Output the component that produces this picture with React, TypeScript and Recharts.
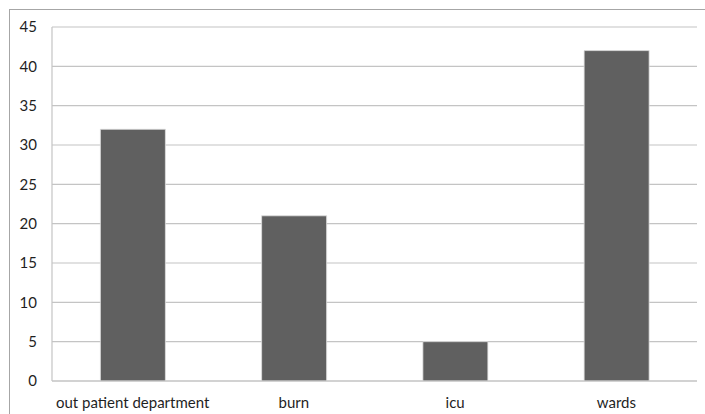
import { Bar, BarChart, CartesianGrid, XAxis, YAxis } from "recharts";

const categories = ["out patient department", "burn", "icu", "wards"];
const counts = [32, 21, 5, 42];
const yTicks = [0, 5, 10, 15, 20, 25, 30, 35, 40, 45];

const data = categories.map((name, i) => ({ name, value: counts[i] }));

const GRID = "#c4c4c4";
const TEXT = "#1f1f1f";
const FONT = "Lato, 'Open Sans', sans-serif";

export default function App() {
  return (
    <div style={{ position: "absolute", left: 0, top: 0, width: 705, height: 414, background: "#fff" }}>
      <div
        style={{
          position: "absolute",
          left: 9,
          top: 9,
          width: 700,
          height: 410,
          borderTop: "1px solid #a6a6a6",
          borderLeft: "1px solid #a6a6a6",
        }}
      />
      <BarChart
        width={705}
        height={414}
        data={data}
        margin={{ top: 27, right: 8, left: 12, bottom: 8 }}
        barCategoryGap="30%"
        style={{ position: "absolute", left: 0, top: 0, fontFamily: FONT }}
      >
        <CartesianGrid stroke={GRID} strokeWidth={1.2} vertical={false} />
        <XAxis
          dataKey="name"
          height={25}
          tickLine={false}
          tickMargin={10}
          axisLine={{ stroke: GRID, strokeWidth: 1.2 }}
          tick={{ fontSize: 15, fill: TEXT, fontFamily: FONT }}
          interval={0}
        />
        <YAxis
          width={40}
          domain={[0, 45]}
          ticks={yTicks}
          tickLine={false}
          tickMargin={9}
          axisLine={{ stroke: GRID, strokeWidth: 1.2 }}
          tick={{ fontSize: 15, fill: TEXT, fontFamily: FONT }}
        />
        <Bar dataKey="value" fill="#606060" stroke="#e0e0e0" strokeWidth={0.8} isAnimationActive={false} />
      </BarChart>
    </div>
  );
}
